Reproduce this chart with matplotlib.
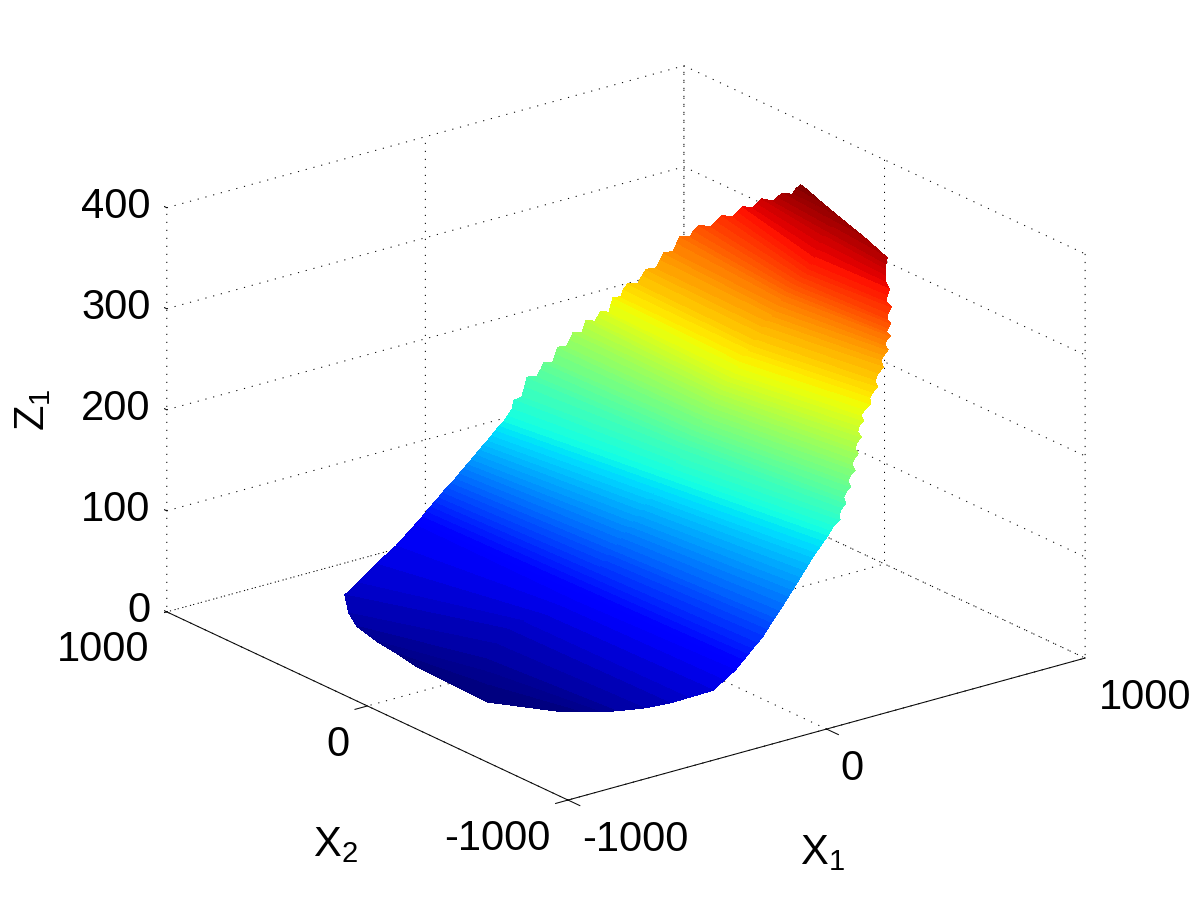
import numpy as np
import matplotlib
matplotlib.use('Agg')
import matplotlib.pyplot as plt

plt.rcParams['font.family'] = ['Liberation Sans']
plt.rcParams['mathtext.default'] = 'regular'
plt.rcParams['grid.color'] = 'k'
plt.rcParams['grid.linestyle'] = (0, (1.2, 6.8))
plt.rcParams['grid.linewidth'] = 0.72

# === SURFACE VALUES, ONE ROW PER Z LEVEL ===

z_levels = [0, 3, 7, 12, 18, 24, 30, 36, 41, 46, 51, 56, 61, 66, 71, 76, 81, 86, 91, 96, 101, 106,
            111, 116, 121, 126, 131, 136, 141, 146, 151, 156, 161, 166, 171, 176, 181, 186, 191,
            196, 201, 206, 211, 216, 221, 226, 231, 236, 241, 246, 251, 256, 261, 266, 271, 276,
            281, 286, 291, 296, 301, 306, 311, 316, 321, 326, 331, 336, 341, 346, 351, 356, 361,
            366, 371, 376, 381, 386, 391, 396, 401, 406, 411, 416, 420, 424]

x1_left = [-675, -671, -678, -674, -657, -604, -541, -430, -314, -185, -178, -171, -162, -152, -145,
           -138, -129, -119, -111, -103, -94, -84, -78, -71, -61, -52, -45, -38, -29, -19, -12, -5,
           9, 24, 49, 58, 90, 122, 125, 145, 160, 158, 177, 196, 196, 214, 229, 227, 237, 247, 237,
           244, 250, 239, 256, 274, 270, 282, 301, 302, 322, 342, 348, 370, 392, 396, 417, 439, 437,
           451, 464, 461, 476, 492, 487, 499, 510, 503, 511, 519, 509, 516, 518, 512, 527, 539]
x2_left = [172, 277, 368, 473, 535, 623, 639, 692, 742, 814, 803, 792, 784, 776, 765, 754, 746, 739,
           727, 715, 707, 699, 688, 677, 669, 661, 650, 639, 631, 624, 613, 601, 600, 599, 622, 594,
           622, 651, 605, 611, 615, 568, 580, 592, 548, 555, 559, 512, 515, 517, 460, 454, 449, 392,
           405, 418, 373, 379, 380, 330, 336, 341, 299, 308, 318, 276, 286, 296, 244, 243, 232, 170,
           163, 155, 94, 85, 76, 16, 3, -9, -77, -93, -109, -170, -167, -177]

x1_mid = [-686, -613, -566, -529, -458, -385, -334, -283, -226, -190, -162, -152, -141, -129, -117,
          -105, -92, -78, -67, -56, -40, -25, -13, -1, 12, 26, 38, 50, 62, 74, 84, 93, 101, 110, 122,
          134, 148, 161, 166, 171, 176, 181, 188, 195, 201, 207, 211, 216, 218, 219, 222, 224, 228,
          231, 242, 252, 264, 276, 285, 295, 312, 329, 343, 356, 365, 374, 381, 388, 388, 388, 390,
          392, 395, 397, 401, 404, 423, 442, 460, 477, 484, 491, 501, 510, 521, 535]
x2_mid = [-196, -102, -42, 16, 57, 97, 78, 39, 37, 9, 24, 16, 10, 3, -4, -11, -14, -16, -23, -29, -31,
          -32, -37, -41, -44, -46, -51, -55, -60, -64, -72, -79, -86, -93, -95, -97, -94, -91, -104,
          -116, -126, -136, -141, -147, -155, -162, -172, -181, -191, -201, -211, -222, -233, -244,
          -247, -251, -252, -253, -261, -269, -266, -264, -267, -269, -274, -279, -284, -290, -307,
          -323, -339, -355, -370, -386, -397, -409, -400, -390, -383, -375, -386, -397, -343, -291,
          -245, -196]

x1_right = [-559, -527, -500, -482, -430, -373, -325, -264, -212, -159, -146, -133, -119, -106, -89,
            -72, -55, -37, -23, -8, 13, 34, 52, 69, 86, 104, 121, 138, 153, 168, 180, 192, 199, 206,
            223, 223, 231, 244, 241, 249, 263, 259, 267, 281, 276, 283, 295, 290, 298, 310, 304, 310,
            323, 319, 331, 348, 350, 363, 377, 373, 390, 413, 413, 425, 435, 427, 428, 434, 420, 418,
            422, 410, 417, 430, 421, 425, 439, 438, 444, 451, 458, 466, 489, 503, 515, 531]
x2_right = [-392, -450, -514, -572, -645, -700, -738, -775, -762, -749, -754, -760, -765, -770, -773,
            -776, -774, -771, -772, -773, -769, -764, -761, -759, -757, -754, -752, -750, -751, -752,
            -756, -760, -766, -772, -780, -775, -777, -782, -774, -776, -781, -773, -775, -780, -771,
            -772, -777, -768, -768, -773, -763, -763, -768, -760, -765, -773, -764, -764, -769, -761,
            -753, -750, -739, -739, -746, -741, -747, -758, -758, -768, -777, -773, -769, -768, -756,
            -754, -749, -732, -722, -711, -706, -702, -559, -429, -324, -214]

# === AXIS TICKS ===

x_ticks = [-1000, 0, 1000]
z_ticks = [0, 100, 200, 300, 400]
x_tick_labels = ['-1000', '0', '1000']
z_tick_labels = ['0', '100', '200', '300', '400']

X1 = np.column_stack([x1_left, x1_mid, x1_right])
X2 = np.column_stack([x2_left, x2_mid, x2_right])
Z = np.column_stack([z_levels, z_levels, z_levels])

# === PLOT SURFACE ===

fig = plt.figure(figsize=(12, 9), dpi=100)
ax = fig.add_axes([0.0115, 0.0055, 1, 1], projection='3d', proj_type='ortho')
ax.view_init(elev=21.03, azim=-127.42)
ax.set_box_aspect((1, 1.014, 0.665), zoom=1.1039)
ax.plot_surface(X1, X2, Z, cmap='jet', vmin=0, vmax=425, rstride=1, cstride=1,
                linewidth=0, antialiased=False)

# tick marks point outward only, so they are drawn by hand
for v in x_ticks:
    ax.plot([v, v], [-1000, -1059], [0, 0], color='k', lw=0.72)
    ax.plot([-1000, -1048], [v, v], [0, 0], color='k', lw=0.72)
for v in z_ticks:
    ax.plot([-1000, -1000], [1000, 1059], [v, v], color='k', lw=0.72)

# === AXIS, LABELS AND STYLE ===

ax.set_xlim(-1000, 1000, view_margin=0)
ax.set_ylim(-1000, 1000, view_margin=0)
ax.set_zlim(0, 400, view_margin=0)
ax.set_xticks(x_ticks)
ax.set_yticks(x_ticks)
ax.set_zticks(z_ticks)

for axis in (ax.xaxis, ax.yaxis, ax.zaxis):
    axis.set_pane_color((1, 1, 1, 0))
    axis.pane.set_edgecolor((1, 1, 1, 0))
    axis.line.set_linewidth(0.72)
    axis._axinfo['tick'].update({'inward_factor': 0, 'outward_factor': 0})
ax.zaxis.line.set_color((0, 0, 0, 0))

ax.tick_params(labelsize=30)
ax.tick_params(axis='z', pad=-2)
ax.set_xticklabels(x_tick_labels, ha='left')
ax.set_yticklabels(x_tick_labels, ha='right')
ax.set_zticklabels(z_tick_labels, ha='right', va='center')

fig.text(822 / 1200, 1 - 853 / 900, 'X$_1$', fontsize=30, ha='center', va='center')
fig.text(335 / 1200, 1 - 845 / 900, 'X$_2$', fontsize=30, ha='center', va='center')
fig.text(33 / 1200, 1 - 410 / 900, 'Z$_1$', fontsize=30, rotation=90, ha='center', va='center')

fig.savefig('out.png')
